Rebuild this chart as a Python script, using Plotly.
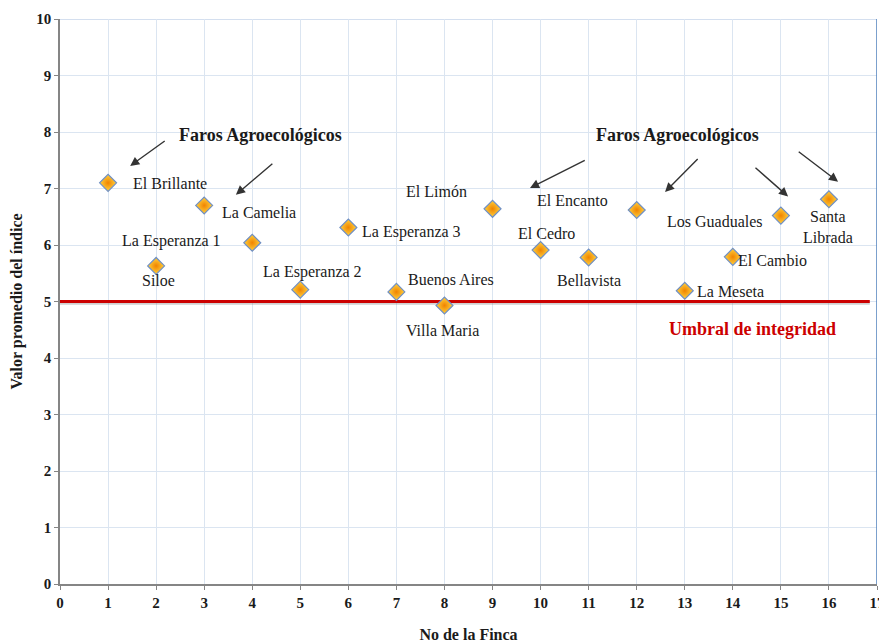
import plotly.graph_objects as go

fincas = list(range(1, 17))
valores = [7.10, 5.63, 6.70, 6.04, 5.21, 6.31, 5.17, 4.93, 6.64, 5.91, 5.78, 6.62, 5.19, 5.79, 6.52, 6.81]
nombres = ["El Brillante", "Siloe", "La Camelia", "La Esperanza 1", "La Esperanza 2",
           "La Esperanza 3", "Buenos Aires", "Villa Maria", "El Limón", "El Cedro",
           "Bellavista", "El Encanto", "La Meseta", "El Cambio", "Los Guaduales",
           "Santa<br>Librada"]
# label offsets in pixels (x, y-up) relative to each point
offsets = [(62, -1), (2, -15), (55, -7), (-81, 2), (12, 18), (63, -5), (55, 12), (-2, -25),
           (-56, 17), (6, 17), (0, -23), (-64, 9), (46, -1), (40, -4), (-66, -6), (-1, -28)]
umbral = 5
umbral_x = [0, 16.85]
x_ticks = list(range(0, 18))
y_ticks = list(range(0, 11))

# arrows: (tail_x, tail_y, head_x, head_y)
flechas = [(2.21, 7.86, 1.46, 7.40), (4.45, 7.46, 3.66, 6.89), (10.95, 7.51, 9.78, 7.01),
           (13.30, 7.55, 12.59, 6.94), (14.44, 7.39, 15.15, 6.86), (15.34, 7.67, 16.19, 7.12)]
faros = [(4.17, 7.95), (12.84, 7.95)]

serif = "Liberation Serif, Times New Roman, serif"

fig = go.Figure()

# threshold shadow + line
fig.add_trace(go.Scatter(x=umbral_x, y=[umbral - 0.03] * 2, mode="lines",
                         line=dict(color="rgba(120,120,120,0.35)", width=3),
                         hoverinfo="skip", showlegend=False))
fig.add_trace(go.Scatter(x=umbral_x, y=[umbral] * 2, mode="lines",
                         line=dict(color="#cc0000", width=3),
                         hoverinfo="skip", showlegend=False))

fig.add_trace(go.Scatter(
    x=fincas, y=valores, mode="markers",
    marker=dict(symbol="diamond", size=13, color="#ffd23f",
                gradient=dict(type="radial", color="#f08400"),
                line=dict(color="#6f8fc4", width=1.2)),
    showlegend=False))

annotations = []
for xv, yv, name, (dx, dy) in zip(fincas, valores, nombres, offsets):
    annotations.append(dict(x=xv, y=yv, xref="x", yref="y", text=name, showarrow=False,
                            xshift=dx, yshift=dy,
                            font=dict(family=serif, size=16, color="#1a1a1a")))

for tx, ty, hx, hy in flechas:
    annotations.append(dict(x=hx, y=hy, ax=tx, ay=ty, xref="x", yref="y", axref="x", ayref="y",
                            text="", showarrow=True, arrowhead=2, arrowsize=1.3, arrowwidth=1.4,
                            arrowcolor="#333333"))

for fx, fy in faros:
    annotations.append(dict(x=fx, y=fy, xref="x", yref="y", text="<b>Faros Agroecológicos</b>",
                            showarrow=False, font=dict(family=serif, size=18, color="#1a1a1a")))

annotations.append(dict(x=14.40, y=4.52, xref="x", yref="y", text="<b>Umbral de integridad</b>",
                        showarrow=False, font=dict(family=serif, size=18, color="#cc0000")))

fig.update_layout(
    width=879, height=635,
    margin=dict(l=52, r=10, t=11, b=59),
    paper_bgcolor="white", plot_bgcolor="white",
    annotations=annotations,
    font=dict(family=serif, color="#1a1a1a"),
    shapes=[dict(type="line", xref="x", yref="y", x0=17, x1=17, y0=0, y1=10,
                 line=dict(color="#4f81bd", width=1.5), layer="above"),
            dict(type="line", xref="x", yref="y", x0=0, x1=17, y0=10, y1=10,
                 line=dict(color="#a9c0e0", width=1), layer="below")],
)
fig.update_xaxes(range=[0, 17], tickvals=x_ticks, showgrid=True, gridcolor="#dbe5f1",
                 showline=True, linecolor="#858585", linewidth=1.5, automargin=False,
                 ticks="outside", ticklen=4, tickcolor="#858585", zeroline=False,
                 tickfont=dict(family=serif, size=15, weight="bold"),
                 title=dict(text="<b>No de la Finca</b>", font=dict(family=serif, size=16), standoff=20))
fig.update_yaxes(range=[0, 10], tickvals=y_ticks, showgrid=True, gridcolor="#dbe5f1",
                 showline=True, linecolor="#858585", linewidth=1.5, automargin=False,
                 ticks="outside", ticklen=4, tickcolor="#858585", zeroline=False,
                 tickfont=dict(family=serif, size=15, weight="bold"),
                 title=dict(text="<b>Valor promedio del índice</b>", font=dict(family=serif, size=16), standoff=10))

fig.write_html("out.html")
